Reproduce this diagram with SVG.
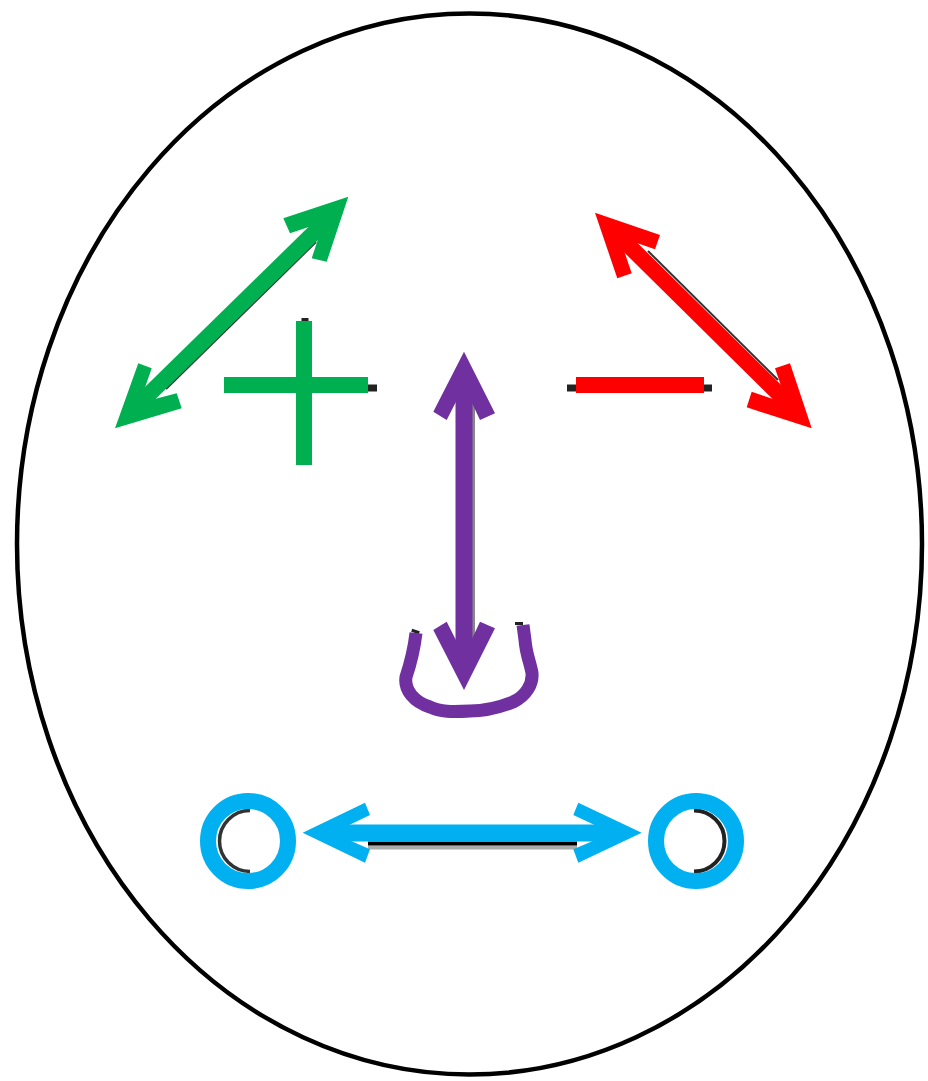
<svg xmlns="http://www.w3.org/2000/svg" width="928" height="1081" viewBox="0 0 928 1081">
<style>
.green{fill:#00B050;stroke:none}
.red{fill:#FF0000;stroke:none}
.purple{fill:#7030A0;stroke:none}
.blue{fill:#00B0F0;stroke:none}
.gs{stroke:#00B050;stroke-width:16;fill:none}
.rs{stroke:#FF0000;stroke-width:16;fill:none}
.ps{stroke:#7030A0;stroke-width:17;fill:none}
.bs{stroke:#00B0F0;stroke-width:17;fill:none}
.shadow{stroke:#222;fill:none}
</style>
<rect width="928" height="1081" fill="#fff"/>
<g id="face">
<ellipse cx="469.5" cy="544" rx="452.5" ry="530.5" fill="none" stroke="#000" stroke-width="4.5"/>
</g>
<g id="plus">
<line x1="226" y1="388" x2="377" y2="388" class="shadow" stroke-width="7"/>
<line x1="305" y1="318" x2="305" y2="460" class="shadow" stroke-width="7"/>
<line x1="224" y1="385" x2="368" y2="385" class="gs"/>
<line x1="304" y1="321" x2="304" y2="465" class="gs"/>
</g>
<g id="minus">
<line x1="567" y1="388" x2="712" y2="388" class="shadow" stroke-width="7"/>
<line x1="576" y1="385" x2="704" y2="385" class="rs"/>
</g>
<g id="mouth">
<path d="M416,630 L415,633 M519,622 L519,625" class="shadow" stroke-width="8"/>
<path d="M416,633 C414,650 411,662 406,677 C404,690 414,702 430,707 C440,712 452,712 470,711 C485,711 498,708 513,702 C526,696 533,684 532,673 C530,662 526,654 525,640 L523,625" fill="none" stroke="#7030A0" stroke-width="13" stroke-linejoin="round"/>
</g>
<g id="eye-left">
<path d="M250,810.5 A30.5,30.5 0 0 0 250,871.5" fill="none" stroke="#333" stroke-width="3.5"/>
<circle cx="248" cy="841" r="40" fill="none" stroke="#00B0F0" stroke-width="16"/>
</g>
<g id="eye-right">
<path d="M694,810.5 A30.5,30.5 0 0 1 694,871.5" fill="none" stroke="#222" stroke-width="4"/>
<circle cx="696" cy="841" r="40" fill="none" stroke="#00B0F0" stroke-width="16"/>
</g>
<g id="connectors">
<!-- green diagonal arrow -->
<line x1="166" y1="389" x2="316" y2="242" stroke="#333" stroke-width="2"/>
<line x1="138" y1="405" x2="327" y2="220" class="gs"/>
<polygon class="green" points="348.3,196.7 283.3,218.3 290,233.3 323.7,222 311.7,258.3 326.7,261.7"/>
<polygon class="green" points="115,428.3 138.3,363.3 151.7,368.3 139.6,403 176.7,393.3 181.7,408.3"/>
<!-- red diagonal arrow -->
<line x1="648" y1="251" x2="778" y2="380" stroke="#333" stroke-width="2"/>
<line x1="618" y1="235" x2="791" y2="406" class="rs"/>
<polygon class="red" points="595,212.7 660,235 655,249.3 619.4,237.1 631.7,273.3 617.3,278.3"/>
<polygon class="red" points="811.7,428.3 790,363.3 775,368.3 787.3,403.9 751.7,391.7 746.7,407.3"/>
<!-- purple vertical arrow -->
<line x1="473.5" y1="392" x2="473.5" y2="650" stroke="#888" stroke-width="3"/>
<line x1="464" y1="383" x2="464" y2="659" class="ps"/>
<polygon class="purple" points="464,351.7 433.3,411.7 446.7,420 464,386 480,420 495,413.3"/>
<polygon class="purple" points="464,690 433.3,630 446.7,621.7 464,656 480,621.7 495,628.3"/>
<!-- blue horizontal arrow -->
<line x1="368" y1="847.5" x2="577" y2="847.5" stroke="#aaa" stroke-width="4"/>
<line x1="368" y1="843.5" x2="577" y2="843.5" stroke="#000" stroke-width="4"/>
<line x1="330" y1="833" x2="614" y2="833" class="bs"/>
<polygon class="blue" points="302.7,832.7 365,802.7 370,815 332.6,833 370,849.3 365,862.7"/>
<polygon class="blue" points="641.7,832.7 578.3,802.7 573.3,815 611.8,833 573.3,849.3 578.3,862.7"/>
</g>
</svg>
